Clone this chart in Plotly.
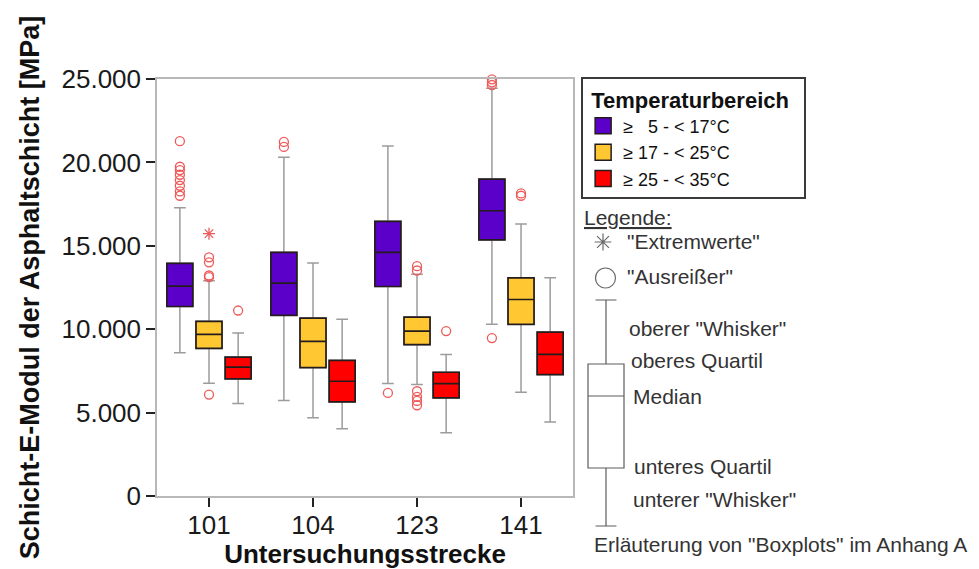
import plotly.graph_objects as go

# ---- data -------------------------------------------------------------
CATEGORIES = ["101", "104", "123", "141"]
GROUP_NAMES = ["≥\u2007 5 - < 17°C", "≥ 17 - < 25°C", "≥ 25 - < 35°C"]
GROUP_COLORS = ["#5b00c8", "#ffc832", "#ff0000"]

# 5 - 17 °C
P_LOWER = [8590, 5720, 6740, 10290]
P_Q1 = [11360, 10830, 12560, 15350]
P_MEDIAN = [12580, 12760, 14610, 17100]
P_Q3 = [13950, 14610, 16470, 19000]
P_UPPER = [17280, 20310, 20990, 24450]
P_OUTLIERS = [
    [21270, 19740, 19540, 19260, 18940, 18600, 18260, 18000],
    [21230, 20930],
    [6180],
    [24980, 24800, 24640, 9470],
]
P_EXTREMES = [[], [], [], []]

# 17 - 25 °C
Y_LOWER = [6760, 4690, 6680, 6220]
Y_Q1 = [8850, 7700, 9070, 10290]
Y_MEDIAN = [9690, 9270, 9890, 11780]
Y_Q3 = [10470, 10670, 10730, 13080]
Y_UPPER = [12900, 13970, 13300, 16310]
Y_OUTLIERS = [
    [14310, 14010, 13220, 13120, 6080],
    [],
    [13780, 13520, 6280, 5940, 5700, 5440],
    [18140, 18000],
]
Y_EXTREMES = [[15730], [], [], []]

# 25 - 35 °C
R_LOWER = [5540, 4030, 3790, 4430]
R_Q1 = [7020, 5640, 5880, 7280]
R_MEDIAN = [7730, 6880, 6740, 8490]
R_Q3 = [8330, 8130, 7420, 9830]
R_UPPER = [9770, 10590, 8490, 13080]
R_OUTLIERS = [[11120], [], [9890], []]
R_EXTREMES = [[], [], [], []]

Y_TICKS = [0, 5000, 10000, 15000, 20000, 25000]

# explanatory key (arbitrary units on its own small axis)
KEY_BOX = dict(lowerfence=33, q1=91, median=163, q3=195, upperfence=259)
KEY_LABELS = [
    ("<u>Legende:</u>", 7, 342),
    ('"Extremwerte"', 50, 318),
    ('"Ausreißer"', 50, 283),
    ('oberer "Whisker"', 52, 231),
    ("oberes Quartil", 54, 199),
    ("Median", 56, 163),
    ("unteres Quartil", 57, 93),
    ('unterer "Whisker"', 56, 60),
    ('Erläuterung von "Boxplots" im Anhang A', 17, 15),
]

GROUPS = [
    (P_LOWER, P_Q1, P_MEDIAN, P_Q3, P_UPPER, P_OUTLIERS, P_EXTREMES),
    (Y_LOWER, Y_Q1, Y_MEDIAN, Y_Q3, Y_UPPER, Y_OUTLIERS, Y_EXTREMES),
    (R_LOWER, R_Q1, R_MEDIAN, R_Q3, R_UPPER, R_OUTLIERS, R_EXTREMES),
]

# ---- styling ----------------------------------------------------------
FONT = "Liberation Sans, Arial, sans-serif"
OFFSETS = [-0.28, 0.0, 0.28]
BOX_W = 0.25
WHISKER_GRAY = "#9c9c9c"
OUTLINE = "#241c1c"
OUTLIER_RED = "#ee5a5a"
FRAME = "#b8b8b8"

fig = go.Figure()
positions = list(range(len(CATEGORIES)))

# whiskers (gray) underneath the filled boxes
for g, (lo, q1, med, q3, up, outl, ext) in enumerate(GROUPS):
    xs = [p + OFFSETS[g] for p in positions]
    fig.add_trace(go.Box(
        x=xs, q1=q1, median=med, q3=q3, lowerfence=lo, upperfence=up,
        orientation="v", width=BOX_W, whiskerwidth=0.45,
        line=dict(color=WHISKER_GRAY, width=1.5),
        fillcolor="rgba(0,0,0,0)", boxpoints=False,
        showlegend=False, hoverinfo="skip",
    ))

# filled boxes with dark outline and median
for g, (lo, q1, med, q3, up, outl, ext) in enumerate(GROUPS):
    xs = [p + OFFSETS[g] for p in positions]
    fig.add_trace(go.Box(
        x=xs, q1=q1, median=med, q3=q3, lowerfence=q1, upperfence=q3,
        orientation="v", width=BOX_W, whiskerwidth=0,
        line=dict(color=OUTLINE, width=1.7),
        fillcolor=GROUP_COLORS[g], boxpoints=False,
        name=GROUP_NAMES[g], showlegend=False,
    ))

# outliers and extreme values
for g, (lo, q1, med, q3, up, outl, ext) in enumerate(GROUPS):
    ox, oy, ex, ey = [], [], [], []
    for p in positions:
        for v in outl[p]:
            ox.append(p + OFFSETS[g])
            oy.append(v)
        for v in ext[p]:
            ex.append(p + OFFSETS[g])
            ey.append(v)
    if ox:
        fig.add_trace(go.Scatter(
            x=ox, y=oy, mode="markers", cliponaxis=False, showlegend=False,
            marker=dict(symbol="circle-open", size=9, color=OUTLIER_RED,
                        line=dict(width=1.3, color=OUTLIER_RED)),
        ))
    if ex:
        fig.add_trace(go.Scatter(
            x=ex, y=ey, mode="markers", cliponaxis=False, showlegend=False,
            marker=dict(symbol="asterisk-open", size=10, color=OUTLIER_RED,
                        line=dict(width=1.3, color=OUTLIER_RED)),
        ))

# legend entries (square swatches)
for g in range(3):
    fig.add_trace(go.Scatter(
        x=[None], y=[None], mode="markers", name=GROUP_NAMES[g],
        marker=dict(symbol="square", size=16, color=GROUP_COLORS[g],
                    line=dict(color=OUTLINE, width=1.5)),
    ))

# explanatory key on its own hidden axes
fig.add_trace(go.Box(
    x=[31], q1=[KEY_BOX["q1"]], median=[KEY_BOX["median"]], q3=[KEY_BOX["q3"]],
    lowerfence=[KEY_BOX["lowerfence"]], upperfence=[KEY_BOX["upperfence"]],
    orientation="v", width=36, whiskerwidth=0.58,
    line=dict(color="#5c5c5c", width=1.2), fillcolor="rgba(0,0,0,0)",
    boxpoints=False, showlegend=False, hoverinfo="skip",
    xaxis="x2", yaxis="y2",
))
fig.add_trace(go.Scatter(
    x=[28], y=[317], mode="markers", showlegend=False, xaxis="x2", yaxis="y2",
    marker=dict(symbol="asterisk-open", size=14, color="#6a6a6a",
                line=dict(width=1.2, color="#6a6a6a")),
))
fig.add_trace(go.Scatter(
    x=[30.5], y=[281], mode="markers", showlegend=False, xaxis="x2", yaxis="y2",
    marker=dict(symbol="circle-open", size=20, color="#6a6a6a",
                line=dict(width=1.2, color="#6a6a6a")),
))
for text, kx, ky in KEY_LABELS:
    fig.add_annotation(
        x=kx, y=ky, xref="x2", yref="y2", text=text, showarrow=False,
        xanchor="left", yanchor="middle",
        font=dict(family=FONT, size=21, color="#333333"),
    )

fig.update_layout(
    width=979, height=569,
    margin=dict(l=157, r=4, t=10, b=10, autoexpand=False),
    paper_bgcolor="white", plot_bgcolor="white",
    font=dict(family=FONT, color="#1a1a1a"),
    separators=",.",
    boxmode="overlay",
    showlegend=True,
    legend=dict(
        x=0.5185, y=0.878, xanchor="left", yanchor="top",
        bgcolor="white", bordercolor="#3a3a3a", borderwidth=2,
        font=dict(family=FONT, size=18, color="#111111"),
        title=dict(text="\u00a0<b>Temperaturbereich</b>\u00a0\u00a0",
                   font=dict(family=FONT, size=22, color="#111111")),
        tracegroupgap=0, itemsizing="trace",
    ),
    xaxis=dict(
        domain=[0, 0.5086], range=[-0.5, 3.5], automargin=False,
        tickvals=positions, ticktext=CATEGORIES,
        ticks="outside", ticklen=9, tickwidth=2, tickcolor="#222222",
        tickfont=dict(size=26, color="#1a1a1a"), ticklabelstandoff=-4,
        showline=True, linecolor=FRAME, linewidth=1.5, mirror=True,
        showgrid=False, zeroline=False,
        title=dict(text="<b>Untersuchungsstrecke</b>", standoff=9,
                   font=dict(size=26, color="#111111")),
    ),
    yaxis=dict(
        domain=[0.11475, 0.87432], range=[0, 25000], automargin=False,
        tickvals=Y_TICKS, tickformat=",d",
        ticks="outside", ticklen=9, tickwidth=2, tickcolor="#222222",
        tickfont=dict(size=26, color="#1a1a1a"),
        showline=True, linecolor=FRAME, linewidth=1.5, mirror=True,
        showgrid=False, zeroline=False,
        title=dict(text="<b>Schicht-E-Modul der Asphaltschicht [MPa]</b>",
                   standoff=14, font=dict(size=27, color="#111111")),
    ),
    xaxis2=dict(domain=[0.511, 1.0], range=[0, 400], visible=False,
                anchor="y2", fixedrange=True),
    yaxis2=dict(domain=[0, 1], range=[0, 549], visible=False,
                anchor="x2", fixedrange=True),
)

fig.write_html("out.html")
